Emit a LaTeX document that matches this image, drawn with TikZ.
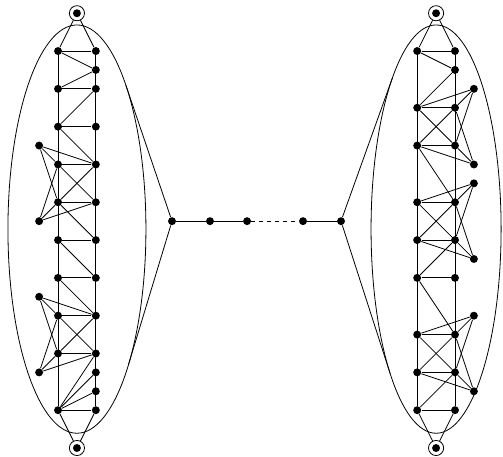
\documentclass[tikz,border=0pt]{standalone}
\usepackage{tikz}
\usetikzlibrary{shapes}

\begin{document}
\begin{tikzpicture}[x=0.5cm,y=0.5cm,line width=0.6pt,
dot/.style={shape=circle,fill,inner sep=0pt,minimum size=2.1mm},
ring/.style={shape=circle,draw,inner sep=0pt,minimum size=4mm,
  path picture={\fill (path picture bounding box.center) circle (1.05mm);}}]
\useasboundingbox (-0.07,-21.43) rectangle (26.54,2.70);
% left graph
\foreach \r in {0,2,4,6,8,10,12,14,16,19} \node[dot] (aL\r) at (3,-\r) {};
\foreach \r in {0,1,2,4,6,8,10,12,14,16,17,18,19} \node[dot] (aR\r) at (5,-\r) {};
\foreach \r in {5,9,13,17} \node[dot] (aE\r) at (2,-\r) {};
\node[ring] (aT) at (4,2) {};
\node[ring] (aB) at (4,-21) {};
\draw (aL0) foreach \r in {2,4,6,8,10,12,14,16,19} {-- (aL\r)};
\draw (aR0) foreach \r in {1,2,4,6,8,10,12,14,16,17,18,19} {-- (aR\r)};
\foreach \u/\v in {L0/R0,L2/R2,L4/R4,L6/R6,L8/R8,L10/R10,L12/R12,L14/R14,L16/R16,L19/R19,
  L0/R1,R1/L2,R2/L4,L4/R6,L6/R8,R6/L8,L8/R10,L10/R12,L12/R14,L14/R16,R14/L16,
  E5/L6,E5/L8,E5/R6,E9/L6,E9/L8,E9/R8,E13/L14,E13/L16,E13/R14,E17/L14,E17/L16,E17/R16,
  L19/R16,L19/R17,L19/R18,T/L0,T/R0,B/L19,B/R19}
  \draw (a\u) -- (a\v);
\draw (4,-9.42) ellipse [x radius=3.65,y radius=10.8];
% right graph
\foreach \r in {0,3,5,8,10,12,15,17,19} \node[dot] (bL\r) at (22,-\r) {};
\foreach \r in {0,1,3,5,8,10,12,15,17,19} \node[dot] (bR\r) at (24,-\r) {};
\foreach \r in {2,6,7,11,14,18} \node[dot] (bE\r) at (25,-\r) {};
\node[ring] (bT) at (23,2) {};
\node[ring] (bB) at (23,-21) {};
\draw (bL0) foreach \r in {3,5,8,10,12,15,17,19} {-- (bL\r)};
\draw (bR0) foreach \r in {1,3,5,8,10,12,15,17,19} {-- (bR\r)};
\foreach \u/\v in {L0/R0,L3/R3,L5/R5,L8/R8,L10/R10,L12/R12,L15/R15,L17/R17,L19/R19,
  L0/R1,R1/L3,L3/R5,R3/L5,L5/R8,L8/R10,R8/L10,R10/L12,L12/R15,L15/R17,R15/L17,R17/L19,
  E2/L3,E2/R3,E2/R5,E6/L5,E6/R5,E6/R3,E7/L8,E7/R8,E7/R10,E11/L10,E11/R10,E11/R8,
  E14/L15,E14/R15,E14/R17,E18/L17,E18/R17,E18/R15,T/L0,T/R0,B/L19,B/R19}
  \draw (b\u) -- (b\v);
\draw (23,-9.42) ellipse [x radius=3.44,y radius=10.8];
% path between the two
\foreach \i/\x in {1/9.03,2/11.04,3/13,4/15.96,5/17.97} \node[dot] (p\i) at (\x,-9) {};
\coordinate (aU) at (6.59,-1.81);
\coordinate (aD) at (6.73,-16.58);
\coordinate (bU) at (20.70,-1.39);
\coordinate (bD) at (20.57,-17.06);
\draw (aU) -- (p1) -- (aD);
\draw (bU) -- (p5) -- (bD);
\draw (p1) -- (p2) -- (p3);
\draw[dashed] (p3) -- (p4);
\draw (p4) -- (p5);
\end{tikzpicture}
\end{document}
